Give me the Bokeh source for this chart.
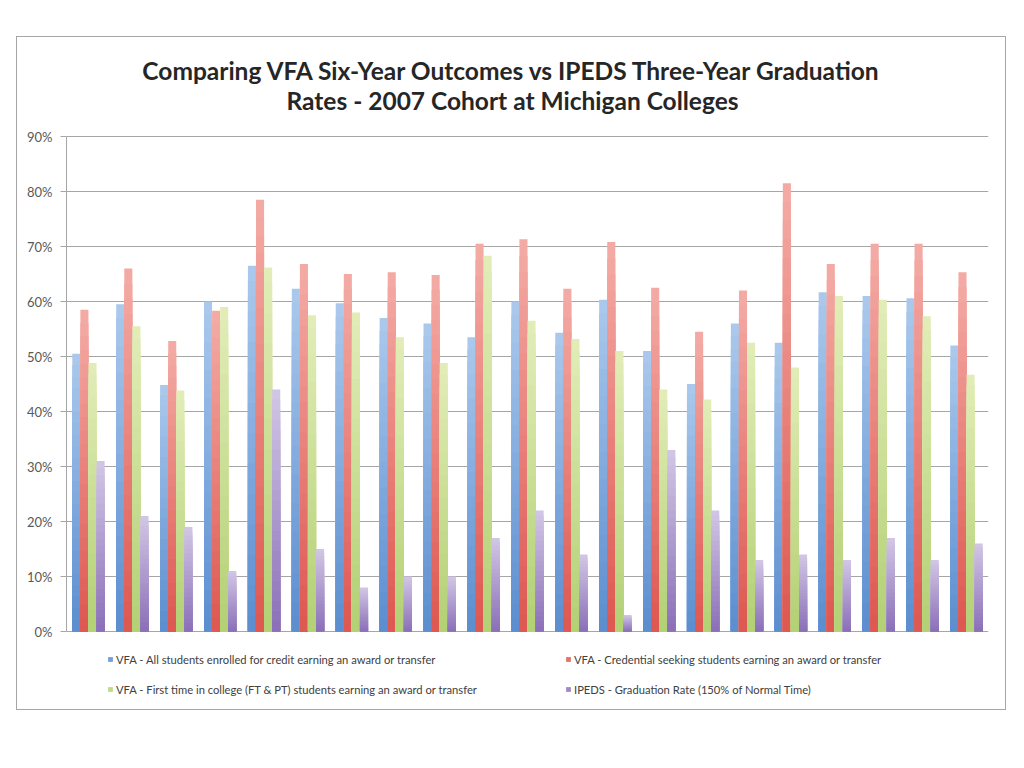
from bokeh.plotting import figure
from bokeh.models import (ColumnDataSource, Range1d, Label, Legend, LegendItem,
                          FixedTicker, CustomJSTickFormatter)
from bokeh.embed import file_html
from bokeh.resources import INLINE

title_lines = ["Comparing VFA Six-Year Outcomes vs IPEDS Three-Year Graduation",
               "Rates - 2007 Cohort at Michigan Colleges"]

colleges = list(range(1, 22))

series_names = [
    "VFA - All students enrolled for credit earning an award or transfer",
    "VFA - Credential seeking students earning an award or transfer",
    "VFA - First time in college (FT & PT) students earning an award or transfer",
    "IPEDS - Graduation Rate (150% of Normal Time)",
]

vfa_all = [50.5, 59.5, 44.8, 60.0, 66.5, 62.3, 59.7, 57.0, 56.0, 53.5, 60.0,
           54.3, 60.3, 51.0, 45.0, 56.0, 52.5, 61.7, 61.0, 60.6, 52.0]
vfa_cred = [58.5, 66.0, 52.8, 58.3, 78.5, 66.8, 65.0, 65.3, 64.8, 70.5, 71.3,
            62.3, 70.8, 62.5, 54.5, 62.0, 81.5, 66.8, 70.5, 70.5, 65.3]
vfa_ftic = [48.8, 55.5, 43.8, 59.0, 66.2, 57.5, 58.0, 53.5, 48.8, 68.3, 56.5,
            53.2, 51.0, 44.0, 42.2, 52.5, 48.0, 61.0, 60.3, 57.3, 46.7]
ipeds = [31.0, 21.0, 19.0, 11.0, 44.0, 15.0, 8.0, 10.0, 10.0, 17.0, 22.0,
         14.0, 3.0, 33.0, 22.0, 13.0, 14.0, 13.0, 17.0, 13.0, 16.0]

y_ticks = [0, 10, 20, 30, 40, 50, 60, 70, 80, 90]

# gradient colours: (bottom, top)
series_colors = [
    ("#5a8dcf", "#abc9ec"),
    ("#dc5750", "#f5aca6"),
    ("#b2d074", "#e2edb8"),
    ("#8a6fb7", "#d2c7e5"),
]

offsets = [-0.276, -0.092, 0.092, 0.276]
bar_w = 0.184
N_SLICES = 24


def hex2rgb(h):
    h = h.lstrip("#")
    return tuple(int(h[i:i + 2], 16) for i in (0, 2, 4))


def mix(c1, c2, t):
    a, b = hex2rgb(c1), hex2rgb(c2)
    return "#%02x%02x%02x" % tuple(int(round(a[i] + (b[i] - a[i]) * t)) for i in range(3))


FIG_W, FIG_H = 990, 674
PX_PER_PCT = 5.5          # vertical scale of the value axis
ZERO_FROM_BOTTOM = 80     # pixels between the 0% line and the bottom of the chart box

p = figure(width=FIG_W, height=FIG_H, output_backend="svg", toolbar_location=None,
           x_range=Range1d(0, 21),
           y_range=Range1d(-ZERO_FROM_BOTTOM / PX_PER_PCT,
                           (FIG_H - ZERO_FROM_BOTTOM) / PX_PER_PCT),
           min_border_left=49, min_border_right=19, min_border_top=0,
           min_border_bottom=0, margin=(36, 0, 0, 16))
p.styles = {"border": "1px solid #a6a6a6"}
p.outline_line_color = None
p.background_fill_color = "white"
p.border_fill_color = "white"

all_series = [vfa_all, vfa_cred, vfa_ftic, ipeds]
legend_items = []
for si, vals in enumerate(all_series):
    bot_c, top_c = series_colors[si]
    xs, tops, fills = [], [], []
    # overlapping layers: full bar in the top colour, then shorter, darker layers
    for k in range(N_SLICES):
        frac = (N_SLICES - k) / N_SLICES
        col = mix(bot_c, top_c, (N_SLICES - k - 0.5) / N_SLICES)
        for gi, v in enumerate(vals):
            xs.append(gi + 0.5 + offsets[si])
            tops.append(v * frac)
            fills.append(col)
    src = ColumnDataSource(dict(x=xs, top=tops, fill=fills))
    r = p.vbar(x="x", bottom=0, top="top", width=bar_w, source=src,
               fill_color="fill", line_color=None)
    # legend swatch takes the colour of a layer two thirds down the gradient
    legend_items.append(LegendItem(label=series_names[si], renderers=[r],
                                   index=(2 * N_SLICES // 3) * len(vals)))

# axes
p.xaxis.visible = False
p.xgrid.visible = False
p.yaxis.ticker = FixedTicker(ticks=y_ticks)
p.yaxis.bounds = (0, 90)
p.yaxis.formatter = CustomJSTickFormatter(code="return tick + '%'")
p.yaxis.axis_line_color = "#a6a6a6"
p.yaxis.major_tick_line_color = "#a6a6a6"
p.yaxis.major_tick_out = 6
p.yaxis.major_tick_in = 0
p.yaxis.minor_tick_line_color = None
p.yaxis.major_label_text_font = "Lato"
p.yaxis.major_label_text_font_size = "13px"
p.yaxis.major_label_text_color = "#595959"
p.yaxis.major_label_standoff = 8
p.ygrid.grid_line_color = "#a6a6a6"
p.ygrid.grid_line_width = 1

# two-line title, placed in frame pixels (measured from the frame's bottom-left)
title_y = [FIG_H - 33, FIG_H - 63]
for line, ty in zip(title_lines, title_y):
    p.add_layout(Label(x=446, y=ty, x_units="screen", y_units="screen",
                       text=line, text_align="center", text_baseline="middle",
                       text_font="Lato", text_font_style="bold",
                       text_font_size="24.5px", text_color="#262626"))

legend = Legend(items=legend_items, location=(41, 12), ncols=2,
                orientation="horizontal",
                glyph_width=6, glyph_height=6, label_standoff=3,
                label_width=439, label_height=20, spacing=10, padding=0, margin=0,
                label_text_font="Lato", label_text_font_size="11.2px",
                label_text_color="#404040",
                border_line_color=None, background_fill_alpha=0)
p.add_layout(legend, "center")

open("out.html", "w").write(file_html(p, INLINE))
